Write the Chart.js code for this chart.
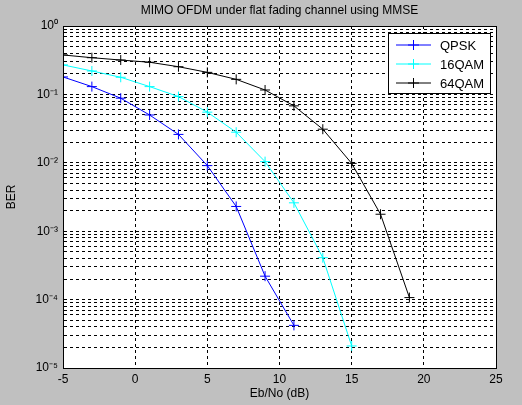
<!DOCTYPE html>
<html><head><meta charset="utf-8">
<script src="https://cdn.jsdelivr.net/npm/chart.js@4"></script>
<style>html,body{margin:0;padding:0;background:#c0c0c0;}#w{width:522px;height:405px;}</style>
</head><body><div id="w"><canvas id="c"></canvas></div>
<script>
const snrQPSK=[-5,-3,-1,1,3,5,7,9,11];
const berQPSK=[0.18,0.13,0.088,0.05,0.026,0.0091,0.0023,2.2e-4,4.2e-5];
const snr16=[-5,-3,-1,1,3,5,7,9,11,13,15];
const ber16=[0.27,0.22,0.178,0.13,0.093,0.055,0.028,0.0104,0.0026,4.1e-4,2.1e-5];
const snr64=[-5,-3,-1,1,3,5,7,9,11,13,15,17,19];
const ber64=[0.377,0.344,0.318,0.295,0.254,0.21,0.166,0.116,0.068,0.031,0.0098,0.00177,1.07e-4];
const xTicks=[-5,0,5,10,15,20,25];
const yDecades=[-5,-4,-3,-2,-1,0];
const titleText='MIMO OFDM under flat fading channel using MMSE';
const sup={'-':'⁻','0':'⁰','1':'¹','2':'²','3':'³','4':'⁴','5':'⁵'};
function pts(x,y){return x.map((v,i)=>({x:v,y:y[i]}));}
const F='"Liberation Sans", Arial, sans-serif';
const deco={id:'deco',
 beforeDraw(ch){const c=ch.ctx,a=ch.chartArea;c.save();c.fillStyle='#fff';c.fillRect(a.left,a.top,a.right-a.left,a.bottom-a.top);c.restore();},
 afterDraw(ch){const c=ch.ctx,a=ch.chartArea;c.save();
  c.strokeStyle='#000';c.lineWidth=1;c.setLineDash([]);
  c.strokeRect(a.left+0.5,a.top+0.5,a.right-a.left,a.bottom-a.top);
  c.fillStyle='#000';c.font='12px '+F;c.textAlign='center';c.textBaseline='middle';
  c.fillText(titleText,(a.left+a.right)/2,11);
  const lx=388,ly=33,lw=102,lh=60;
  c.fillStyle='#fff';c.fillRect(lx,ly,lw,lh);c.strokeRect(lx+0.5,ly+0.5,lw,lh);
  c.textAlign='left';c.font='13px '+F;
  ch.data.datasets.forEach((d,i)=>{const y=ly+12+i*19;
   c.strokeStyle=d.borderColor;c.beginPath();c.moveTo(lx+8,y);c.lineTo(lx+43,y);c.stroke();
   c.beginPath();c.moveTo(lx+25.5,y-5);c.lineTo(lx+25.5,y+5);c.moveTo(lx+20,y);c.lineTo(lx+31,y);c.stroke();
   c.fillStyle='#000';c.fillText(d.label,lx+52,y+1);});
  c.restore();}};
const ds=(l,col,x,y)=>({label:l,data:pts(x,y),borderColor:col,backgroundColor:col,borderWidth:1,pointStyle:'cross',pointRadius:5,pointBorderWidth:1,pointHoverRadius:5,tension:0});
const brd={display:true,color:'#000',width:1,dash:[3,3]};
new Chart(document.getElementById('c'),{type:'line',
 data:{datasets:[ds('QPSK','#0000ff',snrQPSK,berQPSK),ds('16QAM','#00ffff',snr16,ber16),ds('64QAM','#000000',snr64,ber64)]},
 options:{responsive:true,maintainAspectRatio:false,animation:false,
  layout:{padding:{top:26,right:26,left:0,bottom:0}},
  plugins:{legend:{display:false},title:{display:false},tooltip:{enabled:false}},
  scales:{
   x:{type:'linear',min:-5,max:25,
    afterBuildTicks(s){s.ticks=xTicks.map(v=>({value:v}));},
    afterFit(s){s.height=37;},
    grid:{color:'#000',lineWidth:1,drawTicks:false},border:brd,
    ticks:{color:'#000',font:{family:F,size:12},padding:4,maxRotation:0},
    title:{display:true,text:'Eb/No (dB)',color:'#000',font:{family:F,size:12},padding:{top:0}}},
   y:{type:'logarithmic',min:1e-5,max:1,
    afterBuildTicks(s){const t=[];yDecades.forEach(d=>{if(d===0){t.push({value:1});return;}for(let k=1;k<=9;k++)t.push({value:k*Math.pow(10,d)});});s.ticks=t;},
    afterFit(s){s.width=63;},
    grid:{color:'#000',lineWidth:1,drawTicks:false},border:brd,
    ticks:{color:'#000',font:{family:F,size:12},padding:5,autoSkip:false,
     callback(v){const l=Math.log10(v);if(Math.abs(l-Math.round(l))>1e-9)return '';return '10'+String(Math.round(l)).split('').map(ch=>sup[ch]).join('');}},
    title:{display:true,text:'BER',color:'#000',font:{family:F,size:12},padding:{bottom:0}}}
  }},plugins:[deco]});
</script></body></html>
